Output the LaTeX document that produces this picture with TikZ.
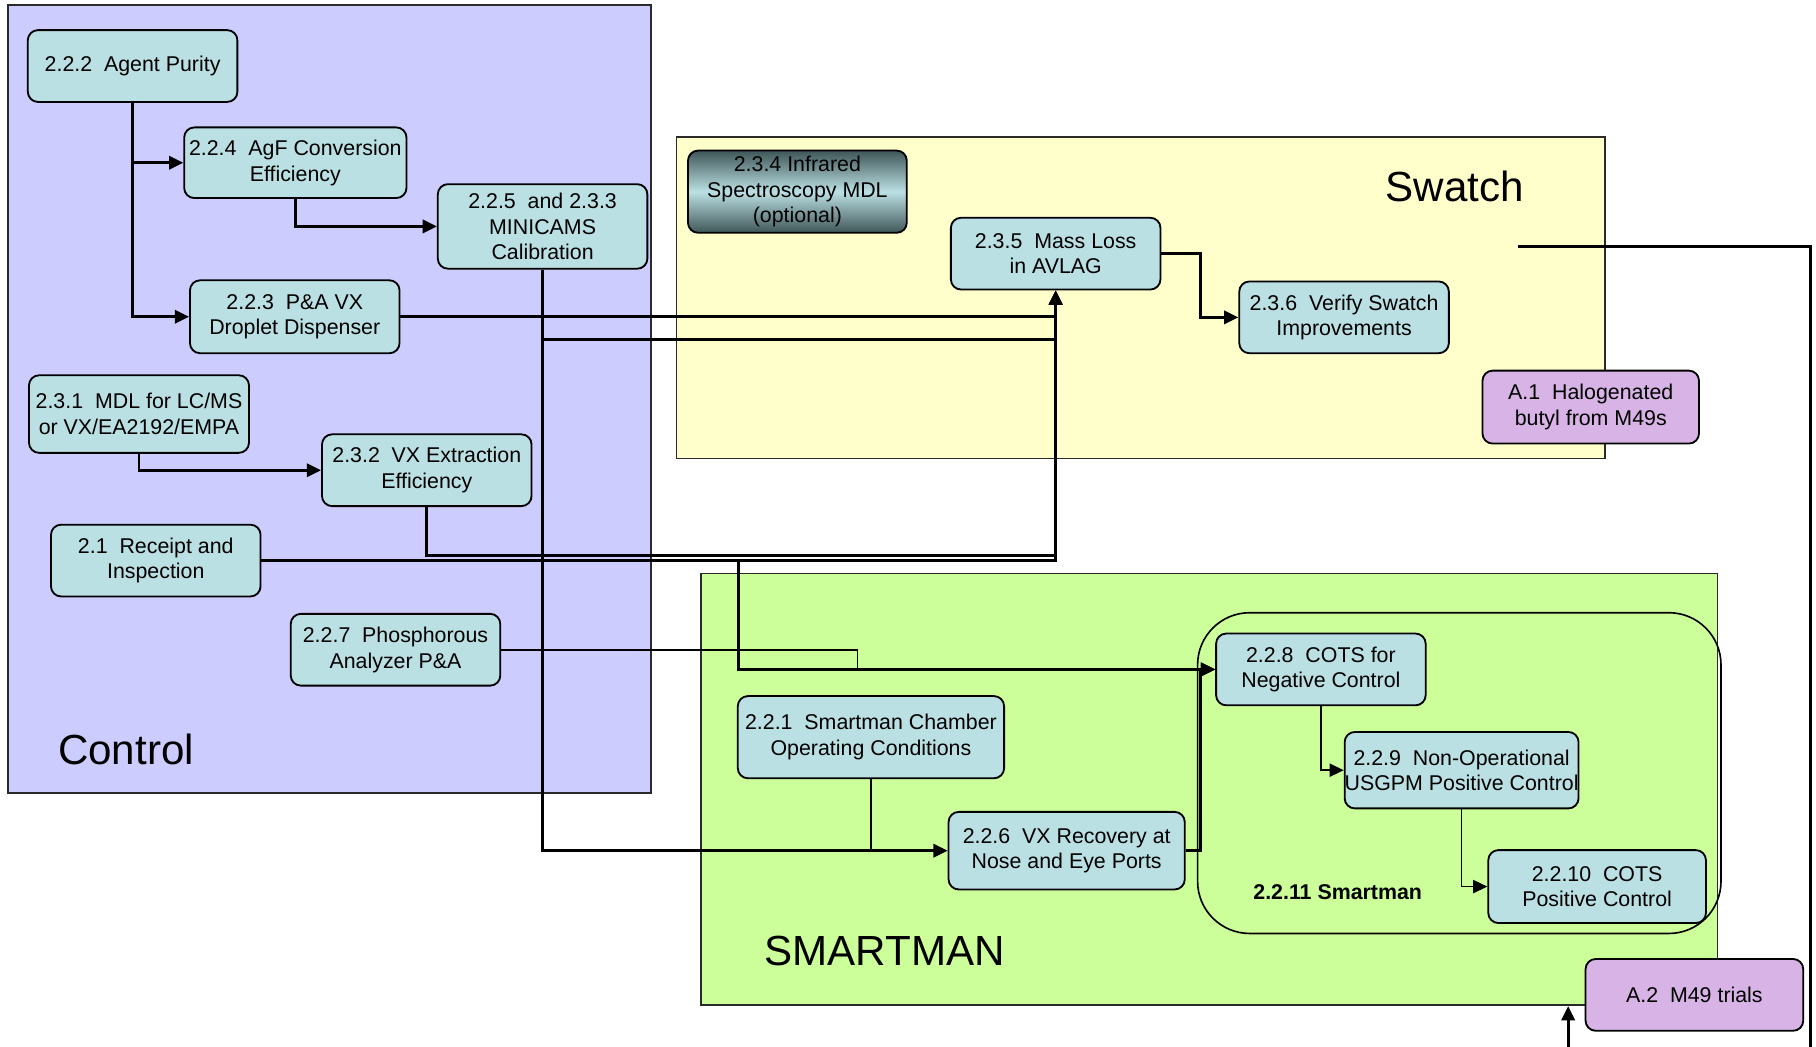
\documentclass[tikz,border=0pt]{standalone}
\usepackage{fontspec}
\setmainfont{Liberation Sans}
\usepackage{tikz}
\usetikzlibrary{arrows.meta, positioning, calc}
\definecolor{ctrlblue}{HTML}{CCCCFF}
\definecolor{swatchyellow}{HTML}{FFFFCC}
\definecolor{smartgreen}{HTML}{CCFF99}
\definecolor{taskteal}{HTML}{BBE0E3}
\definecolor{irdark}{HTML}{3F5658}
\definecolor{apppurple}{HTML}{D8B4E6}
\definecolor{rim}{HTML}{2A2A2A}

\begin{document}
\begin{tikzpicture}[
    x=0.02cm, y=-0.02cm,
    region/.style={rectangle, draw=rim, line width=0.8pt, inner sep=0pt},
    task/.style={rectangle, rounded corners=5pt, draw=black, line width=0.9pt, fill=taskteal, minimum width=3.62cm, minimum height=1.24cm, inner sep=1pt, align=center, font=\fontsize{10.5}{12.6}\selectfont},
    apptask/.style={task, fill=apppurple, minimum width=3.76cm},
    bigtitle/.style={font=\fontsize{20.7}{24}\selectfont},
    flowarrow/.style={-{Triangle[length=7pt,width=6.5pt]}, line width=1.4pt},
    thinarrow/.style={-{Triangle[length=7pt,width=6.5pt]}, line width=0.8pt},
    flowline/.style={line width=1.4pt},
    thinline/.style={line width=0.8pt},
  ]
  \useasboundingbox (0,0) rectangle (1568,904);

  % groups
  \node[region, fill=ctrlblue, minimum width=11.1cm, minimum height=13.62cm] (control) at (284.5,344.5) {};
  \node[region, fill=swatchyellow, minimum width=16.04cm, minimum height=5.56cm] (swatch) at (985,257) {};
  \node[region, fill=smartgreen, minimum width=17.56cm, minimum height=7.46cm] (smart) at (1044,681.5) {};
  \node[region, draw=black, rounded corners=0.9cm, minimum width=9.04cm, minimum height=5.54cm] (smartsub) at (1260,667.5) {};

  \node[bigtitle, anchor=west] (controllbl) at (44,647) {Control};
  \node[bigtitle] (swatchlbl) at (1256,161) {Swatch};
  \node[bigtitle] (smartlbl) at (764,821) {SMARTMAN};
  \node[font=\fontsize{10.5}{12.6}\selectfont\bfseries] (smartsublbl) at (1155,770) {2.2.11 Smartman};

  % tasks
  \node[task] (ap) at (114.5,57) {2.2.2~~Agent Purity};
  \node[task, minimum width=3.84cm, minimum height=1.22cm] (agf) at (255,140.5) {2.2.4~~AgF Conversion\\Efficiency};
  \node[task, minimum height=1.46cm] (mini) at (468.5,195.5) {2.2.5~~and 2.3.3\\MINICAMS\\Calibration};
  \node[task, minimum height=1.26cm] (pav) at (254.5,273.5) {2.2.3~~P\&A VX\\Droplet Dispenser};
  \node[task, minimum width=3.8cm, minimum height=1.34cm] (mdl) at (120,357.5) {2.3.1~~MDL for LC/MS\\or VX/EA2192/EMPA};
  \node[task] (vxe) at (368.5,406) {2.3.2~~VX Extraction\\Efficiency};
  \node[task] (rec) at (134.5,484) {2.1~~Receipt and\\Inspection};
  \node[task] (pho) at (341.5,561) {2.2.7~~Phosphorous\\Analyzer P\&A};

  \node[task, minimum width=3.78cm, minimum height=1.42cm, top color=irdark, bottom color=irdark, middle color=taskteal] (ir) at (688.5,165.5) {2.3.4 Infrared\\Spectroscopy MDL\\(optional)};
  \node[task] (mass) at (911.5,219) {2.3.5~~Mass Loss\\in AVLAG};
  \node[task] (ver) at (1160.5,274) {2.3.6~~Verify Swatch\\Improvements};

  \node[task, minimum width=4.6cm, minimum height=1.42cm] (cham) at (752,636.5) {2.2.1~~Smartman Chamber\\Operating Conditions};
  \node[task, minimum width=4.08cm, minimum height=1.34cm] (vxr) at (921,734.5) {2.2.6~~VX Recovery at\\Nose and Eye Ports};
  \node[task] (neg) at (1140.5,578) {2.2.8~~COTS for\\Negative Control};
  \node[task, minimum width=3.96cm, minimum height=1.32cm, inner xsep=0pt] (nonop) at (1262,665) {2.2.9~~Non-Operational\\USGPM Positive Control};
  \node[task, minimum width=3.76cm, minimum height=1.26cm] (pos) at (1379,765.5) {2.2.10~~COTS\\Positive Control};

  % connectors
  \coordinate (swout) at (1311,213);
  \coordinate (edgeright) at (1563,906);
  \coordinate (edgeup) at (1354,906);

  \draw[flowarrow] (ap.south) |- (agf.west);
  \draw[flowarrow] (ap.south) |- (pav.west);
  \draw[flowarrow] (agf.south) |- (mini.west);
  \draw[flowarrow] (pav.east) -| (mass.south);
  \draw[flowarrow] (mini.south) |- (vxr.west);
  \draw[flowarrow] (mini.south) |- ($(mass.south)+(0,42)$) -- (mass.south);
  \draw[flowarrow] (mdl.south) |- (vxe.west);
  \draw[flowarrow] (vxe.south) |- ($(mass.south)+(0,229)$) -- (mass.south);
  \draw[flowarrow] (rec.east) -| (mass.south);
  \draw[flowarrow] (rec.east) -- ++(412,0) |- (neg.west);
  \draw[thinarrow] (pho.east) -| ($(neg.west)+(-309,-1)$) |- (neg.west);
  \draw[thinline] (cham.south) -- (cham.south |- vxr.west);
  \draw[flowarrow] (vxr.east) -- ++(13,0) |- (neg.west);
  \draw[thinarrow] (neg.south) |- (nonop.west);
  \draw[thinarrow] (nonop.south) |- (pos.west);
  \draw[flowarrow] (mass.east) -- ++(34,0) |- (ver.west);
  \draw[flowline] (swout) -| (edgeright);
  \draw[flowarrow] (edgeup) -- (edgeup |- smart.south);

  \node[apptask, minimum width=3.74cm, minimum height=1.26cm] (hal) at (1373.5,351.5) {A.1~~Halogenated\\butyl from M49s};
  \node[apptask] (m49) at (1463,859) {A.2~~M49 trials};
\end{tikzpicture}
\end{document}
